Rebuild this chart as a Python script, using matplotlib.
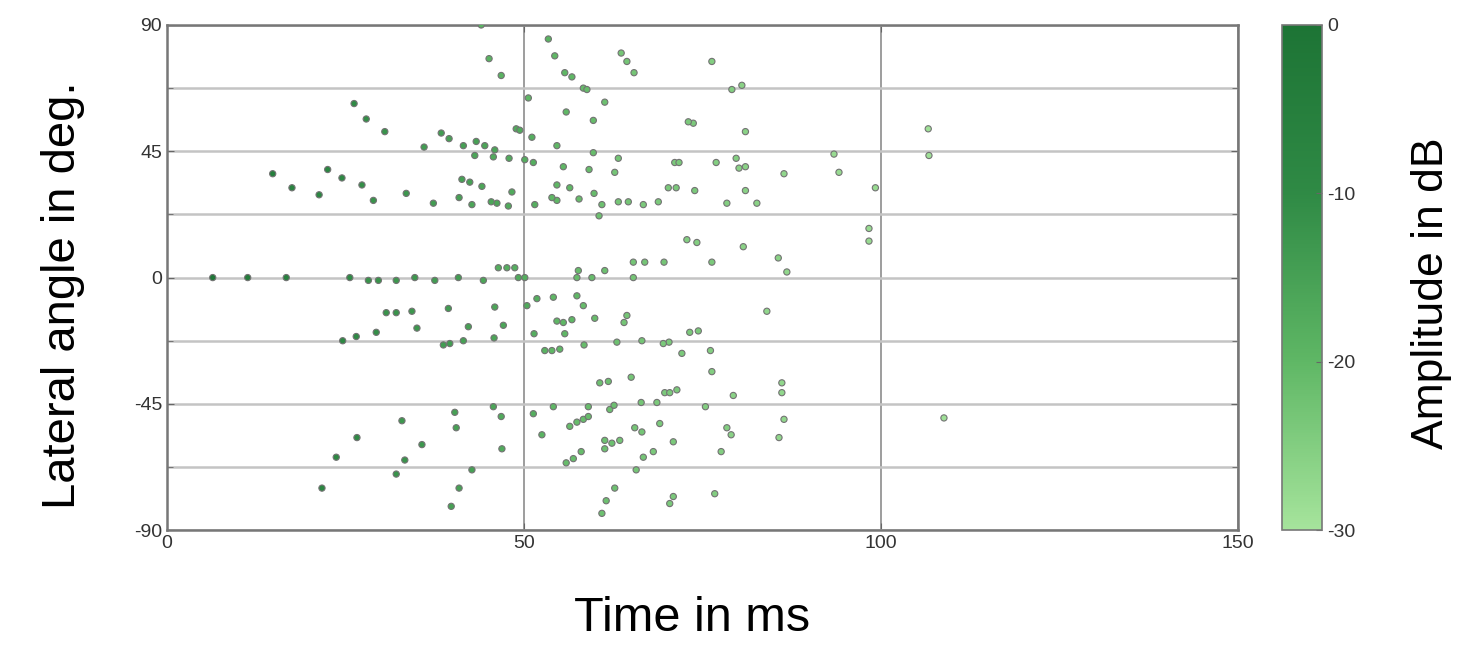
import numpy as np
import matplotlib
matplotlib.use('Agg')
import matplotlib.pyplot as plt
from matplotlib.colors import LinearSegmentedColormap

plt.rcParams['font.family'] = ['Liberation Sans', 'DejaVu Sans']
plt.rcParams['axes.unicode_minus'] = False

# reflections: time (ms), lateral angle (deg), amplitude (dB)
time_ms = [
    6.4, 11.3, 16.7, 25.6, 28.2, 29.6, 32.1, 34.7, 37.5, 40.8, 44.3, 49.2, 50.1,
    57.4, 59.5, 65.3, 86.8, 85.6, 76.3, 69.6, 65.3, 66.9, 61.3, 57.6, 46.4, 47.6,
    48.7, 80.7, 72.8, 74.2, 98.3, 98.3,
    44.0, 45.1, 46.8, 50.6, 26.2, 27.9, 30.5, 36.0, 38.4, 39.5, 41.5, 43.3, 44.5,
    43.1, 45.9, 45.7, 47.9, 48.9, 49.4, 51.1, 50.1, 51.3, 14.8, 17.5, 21.3, 22.5,
    24.5, 27.3, 28.9, 33.5, 37.3, 41.3, 42.4, 44.1, 40.9, 42.7, 45.4, 46.2, 48.3,
    47.8, 51.5,
    53.4, 54.3, 55.7, 56.7, 58.3, 58.8, 63.6, 64.4, 65.4, 76.3, 79.1, 80.5, 55.9,
    61.3, 59.7, 73.0, 73.7, 81.0, 54.6, 59.7, 63.2, 71.1, 71.7, 76.9, 79.7, 93.4,
    55.5, 59.1, 62.7, 80.1, 81.0, 86.4, 94.1, 54.6, 56.4, 53.9, 54.6, 57.7, 59.8,
    70.2, 71.3, 73.9, 81.0, 60.9, 60.5, 63.2, 64.6, 66.7, 68.8, 78.4, 82.6,
    106.6, 106.7, 99.2, 108.8,
    30.7, 32.1, 34.3, 39.4, 45.9, 50.4, 51.8, 24.6, 26.5, 29.3, 35.0, 42.2, 47.1,
    45.8, 51.4, 38.7, 39.6, 41.5, 40.3, 45.7, 46.8, 51.3, 32.9, 40.5, 26.6, 35.7,
    46.9, 23.7, 33.3, 42.7, 32.1, 21.7, 40.9, 39.8,
    54.1, 57.4, 58.3, 54.6, 55.5, 56.7, 59.9, 55.7, 64.4, 64.0, 73.2, 74.4, 84.0,
    52.9, 53.9, 55.0, 58.4, 63.0, 66.5, 69.5, 70.3, 72.1, 76.1, 76.3, 60.6, 61.8,
    65.0, 69.7, 70.4, 71.4, 79.3, 86.1, 86.1, 66.4, 68.6, 75.4, 62.0, 62.6, 54.1,
    59.0, 59.0, 56.4, 57.4, 58.3, 86.4, 69.0, 65.5, 66.5, 78.4, 79.0, 52.5, 61.3,
    61.3, 62.3, 63.4, 70.9, 85.7, 55.9, 56.9, 58.0, 66.7, 68.1, 77.6, 65.7, 62.7,
    61.5, 60.9, 70.9, 70.4, 76.7,
]
angle_deg = [
    0, 0, 0, 0, -1, -1, -1, 0, -1, 0, -1, 0, 0,
    0, 0, 0, 2, 7, 5.5, 5.5, 5.5, 5.5, 2.5, 2.5, 3.5, 3.5,
    3.5, 11, 13.5, 12.5, 17.5, 13,
    90, 78, 72, 64, 62, 56.5, 52, 46.5, 51.5, 49.5, 47, 48.5, 47,
    43.5, 45.5, 43, 42.5, 53, 52.5, 50, 42, 41, 37, 32, 29.5, 38.5,
    35.5, 33, 27.5, 30, 26.5, 35, 34, 32.5, 28.5, 26, 27, 26.5, 30.5,
    25.5, 26,
    85, 79, 73, 71.5, 67.5, 67, 80, 77, 73, 77, 67, 68.5, 59,
    62.5, 56, 55.5, 55, 52, 47, 44.5, 42.5, 41, 41, 41, 42.5, 44,
    39.5, 38.5, 37.5, 39, 39.5, 37, 37.5, 33, 32, 28.5, 27.5, 28, 30,
    32, 32, 31, 31, 26, 22, 27, 27, 26, 27, 26.5, 26.5,
    53, 43.5, 32, -50,
    -12.5, -12.5, -12, -11, -10.5, -10, -7.5, -22.5, -21, -19.5, -18, -17.5, -17,
    -21.5, -20, -24, -23.5, -22.5, -48, -46, -49.5, -48.5, -51, -53.5, -57, -59.5,
    -61, -64, -65, -68.5, -70, -75, -75, -81.5,
    -7, -6.5, -10, -15.5, -16, -15, -14.5, -20, -13.5, -16, -19.5, -19, -12,
    -26, -26, -25.5, -24, -23, -22.5, -23.5, -23, -27, -26, -33.5, -37.5, -37,
    -35.5, -41, -41, -40, -42, -37.5, -41, -44.5, -44.5, -46, -47, -45.5, -46,
    -46, -49.5, -53, -51.5, -50.5, -50.5, -52, -53.5, -55, -53.5, -56, -56, -58,
    -61, -59, -58, -58.5, -57, -66, -64.5, -62, -64, -62, -62, -68.5, -75,
    -79.5, -84, -78, -80.5, -77,
]
amp_db = [
    -1, -4, -6, -10, -12, -12, -13, -13, -14, -14, -16, -17, -18,
    -21, -21, -23, -27, -26, -24, -23, -23, -23, -22, -21, -18, -18,
    -18, -26, -25, -25, -28, -28,
    -19, -19, -19, -20, -10, -11, -12, -14, -14, -15, -15, -15, -16,
    -16, -16, -17, -17, -17, -17, -18, -18, -18, -5, -7, -8, -8,
    -9, -11, -12, -13, -14, -15, -15, -16, -15, -16, -16, -16, -17,
    -17, -18,
    -19, -20, -20, -20, -21, -21, -23, -23, -23, -25, -25, -26, -20,
    -22, -21, -24, -24, -26, -20, -21, -23, -24, -24, -25, -25, -28,
    -20, -21, -23, -26, -26, -27, -28, -20, -20, -20, -20, -21, -21,
    -24, -24, -24, -26, -22, -22, -23, -23, -24, -24, -25, -26,
    -29, -29, -28, -29,
    -12, -12, -13, -14, -16, -17, -18, -9, -10, -11, -13, -15, -16,
    -16, -18, -14, -14, -15, -15, -16, -17, -18, -13, -15, -10, -13,
    -17, -9, -12, -15, -12, -8, -15, -15,
    -20, -20, -21, -20, -20, -20, -21, -20, -23, -23, -24, -24, -27,
    -19, -20, -20, -21, -22, -23, -24, -24, -24, -25, -25, -22, -22,
    -23, -24, -24, -24, -26, -27, -27, -23, -24, -25, -22, -22, -20,
    -21, -21, -21, -21, -21, -27, -24, -23, -23, -25, -26, -19, -22,
    -22, -22, -23, -24, -27, -21, -21, -21, -23, -24, -25, -23, -22,
    -22, -22, -24, -24, -25,
]

greens = LinearSegmentedColormap.from_list(
    'amp_greens', ['#a6e49c', '#5fb765', '#2f8a45', '#1d7435'])

fig = plt.figure(figsize=(14.74, 6.57), dpi=100)
ax = fig.add_axes([0.1133, 0.193, 0.7267, 0.769])
cax = fig.add_axes([0.8697, 0.193, 0.0273, 0.769])

order = np.argsort(amp_db)
t = np.array(time_ms)[order]
a = np.array(angle_deg)[order]
c = np.array(amp_db)[order]
sc = ax.scatter(t, a, c=c, cmap=greens, vmin=-30, vmax=0, s=20,
                edgecolors='0.45', linewidths=0.8, zorder=3)

ax.set_xlim(0, 150)
ax.set_ylim(-90, 90)
ax.set_xticks([0, 50, 100, 150])
ax.set_yticks([-90, -45, 0, 45, 90])
ax.set_yticks(np.arange(-67.5, 90, 45), minor=True)
ax.grid(True, which='major', axis='x', color='#8c8c8c', linewidth=1.2, zorder=0)
ax.grid(True, which='both', axis='y', color='#c4c4c4', linewidth=1.8, zorder=0)
ax.tick_params(which='both', direction='in', top=True, right=True,
               labelsize=14, labelcolor='#333333', color='#666666', length=5)
ax.tick_params(which='minor', length=4)
for s in ax.spines.values():
    s.set_color('#777777')
    s.set_linewidth(1.8)

ax.set_xlabel('Time in ms', fontsize=35)
ax.xaxis.set_label_coords(0.49, -0.13)
ax.set_ylabel('Lateral angle in deg.', fontsize=34)
ax.yaxis.set_label_coords(-0.077, 0.465)

cb = fig.colorbar(sc, cax=cax)
cb.set_ticks([0, -10, -20, -30])
cb.ax.tick_params(direction='in', labelsize=14, labelcolor='#333333',
                  color='#666666', length=4)
cb.outline.set_edgecolor('#777777')
cb.outline.set_linewidth(1.2)
cb.set_label('Amplitude in dB', fontsize=32)
cb.ax.yaxis.set_label_coords(3.2, 0.47)

fig.savefig('out.png', dpi=100)
